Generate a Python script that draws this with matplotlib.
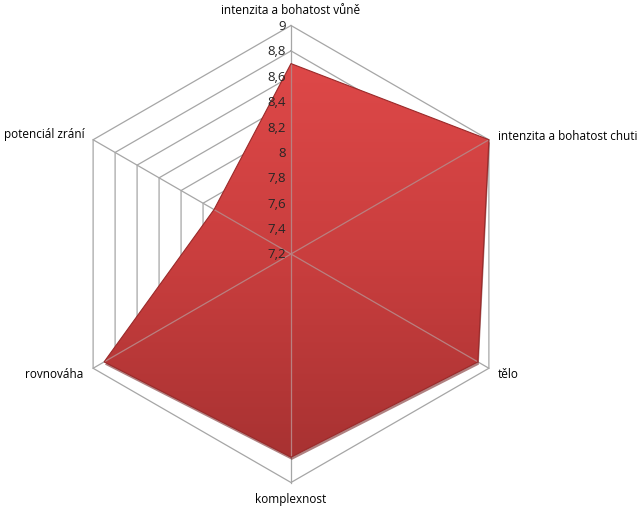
import numpy as np
import matplotlib
matplotlib.use("Agg")
import matplotlib.pyplot as plt
from matplotlib.patches import Polygon
from matplotlib.colors import LinearSegmentedColormap

categories = ["intenzita a bohatost vůně", "intenzita a bohatost chuti", "tělo",
              "komplexnost", "rovnováha", "potenciál zrání"]
values = [8.7, 9.0, 8.9, 8.8, 8.9, 7.9]
tick_values = [7.2, 7.4, 7.6, 7.8, 8.0, 8.2, 8.4, 8.6, 8.8, 9.0]
tick_labels = ["7,2", "7,4", "7,6", "7,8", "8", "8,2", "8,4", "8,6", "8,8", "9"]
vmin, vmax = 7.2, 9.0

plt.rcParams['font.family'] = ['Open Sans', 'DejaVu Sans']

W, H = 641, 510
cx, cy, R = 291, 255, 228.5
fig = plt.figure(figsize=(W / 100, H / 100), dpi=100)
ax = fig.add_axes([0, 0, 1, 1])
ax.set_xlim(-cx / R, (W - cx) / R)
ax.set_ylim(-(H - cy) / R, cy / R)
ax.axis("off")

n = len(categories)
angles = np.deg2rad(90 - 360 / n * np.arange(n))

def xy(v, a):
    r = (v - vmin) / (vmax - vmin)
    return r * np.cos(a), r * np.sin(a)

grid_color = "#a6a6a6"
# grid rings
for tv in tick_values[1:]:
    pts = [xy(tv, a) for a in angles]
    pts.append(pts[0])
    ax.plot([p[0] for p in pts], [p[1] for p in pts], color=grid_color, lw=0.9, zorder=1)
# spokes
for a in angles:
    x, y = xy(vmax, a)
    ax.plot([0, x], [0, y], color=grid_color, lw=0.9, zorder=1)

# data polygon with gradient
pts = np.array([xy(v, a) for v, a in zip(values, angles)])
shadow = Polygon(pts + np.array([0.004, -0.012]), closed=True, facecolor="#6e1a1a",
                 edgecolor="none", alpha=0.55, zorder=2)
ax.add_patch(shadow)
poly = Polygon(pts, closed=True, facecolor="none", edgecolor="#9a2a2a", lw=0.8, zorder=4)
ax.add_patch(poly)
cmap = LinearSegmentedColormap.from_list("red", ["#a83232", "#c93e3e", "#de4848"])
xmin, xmax = pts[:, 0].min(), pts[:, 0].max()
ymin, ymax = pts[:, 1].min(), pts[:, 1].max()
grad = np.linspace(0, 1, 256).reshape(-1, 1)
im = ax.imshow(grad, cmap=cmap, origin="lower", extent=[xmin, xmax, ymin, ymax],
               aspect="auto", zorder=3, interpolation="bicubic")
clip = Polygon(pts, closed=True, transform=ax.transData)
im.set_clip_path(clip)

# spokes visible through the fill, clipped to the data polygon
for a in angles:
    x, y = xy(vmax, a)
    ln, = ax.plot([0, x], [0, y], color="#b98080", lw=0.9, zorder=3.5)
    ln.set_clip_path(Polygon(pts, closed=True, transform=ax.transData))

# tick labels
for tv, tl in zip(tick_values, tick_labels):
    x, y = xy(tv, angles[0])
    ax.text(x - 5 / R, y, tl, ha="right", va="center", fontsize=9.5, color="#262626", zorder=5)

# category labels
fs = 8.5
lab = dict(fontsize=fs, color="#000000", zorder=5)
ax.text(0, (cy - 10) / R, categories[0], ha="center", va="center", **lab)
x, y = xy(vmax, angles[1])
ax.text(x + 9 / R, y + 4 / R, categories[1], ha="left", va="center", **lab)
x, y = xy(vmax, angles[2])
ax.text(x + 9 / R, y - 5 / R, categories[2], ha="left", va="center", **lab)
ax.text(0, -(500 - cy) / R, categories[3], ha="center", va="center", **lab)
x, y = xy(vmax, angles[4])
ax.text(x - 10 / R, y - 5 / R, categories[4], ha="right", va="center", **lab)
x, y = xy(vmax, angles[5])
ax.text(x - 8 / R, y + 6 / R, categories[5], ha="right", va="center", **lab)

fig.savefig("out.png", dpi=100)
